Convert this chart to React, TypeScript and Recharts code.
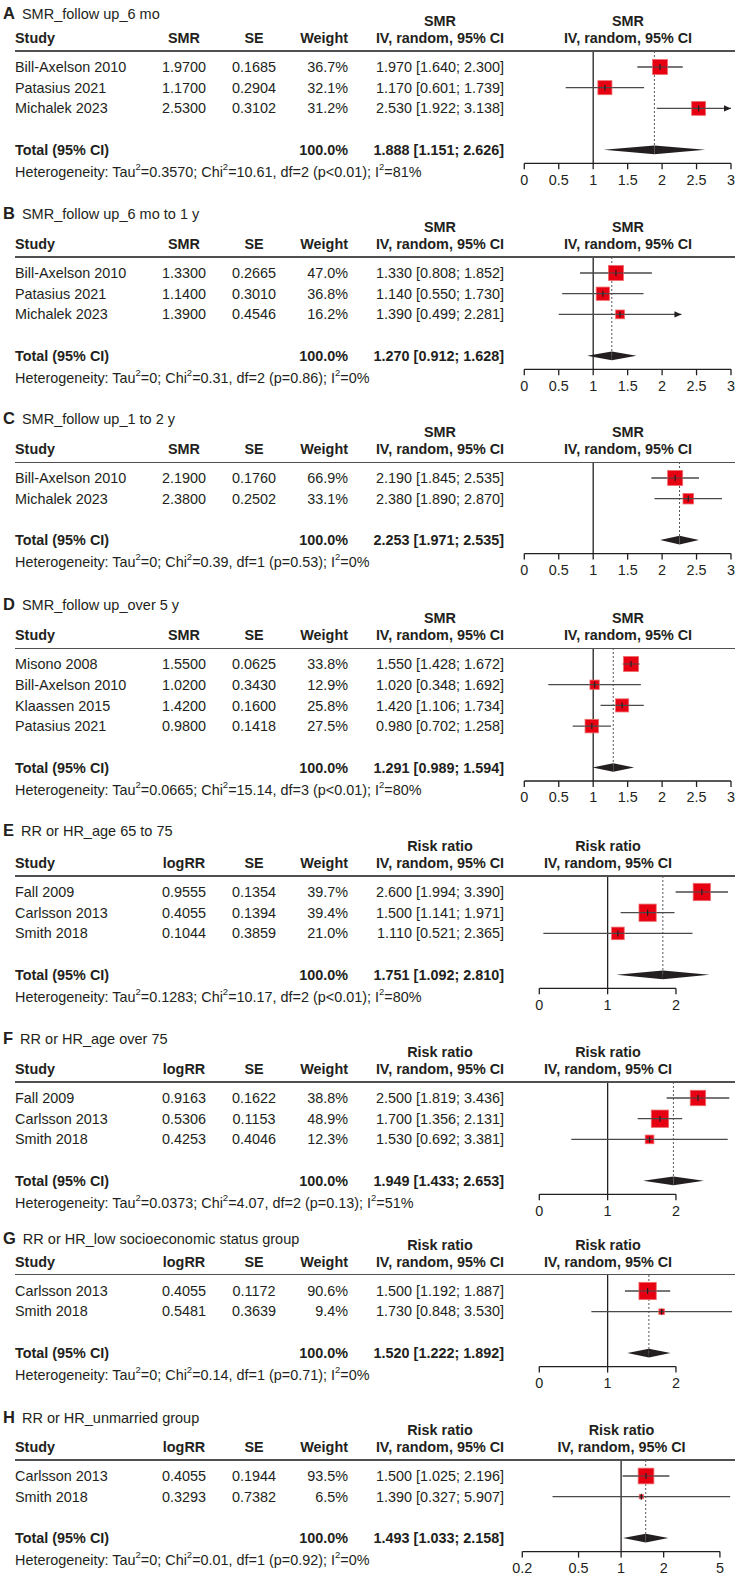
import React from 'react'
import { ComposedChart, XAxis, YAxis, Scatter, ReferenceLine, ReferenceArea, ReferenceDot } from 'recharts'

if (typeof document !== 'undefined') document.body.style.margin = '0'

const FONT = '"Liberation Sans", Arial, Helvetica, sans-serif'
const INK = '#231f20'
const RED = '#e60012'
const CI = '#4a4a4a'

// A: SMR, follow up 6 mo
const A_STUDIES = ['Bill-Axelson 2010', 'Patasius 2021', 'Michalek 2023']
const A_SMR = [1.97, 1.17, 2.53]
const A_SE = [0.1685, 0.2904, 0.3102]
const A_WEIGHT = [36.7, 32.1, 31.2]
const A_LOWER = [1.64, 0.601, 1.922]
const A_UPPER = [2.3, 1.739, 3.138]
const A_TOTAL = [1.888, 1.151, 2.626]
const A_HET = ['0.3570', '10.61', '2', 'p<0.01', '81%']

// B: SMR, follow up 6 mo to 1 y
const B_STUDIES = ['Bill-Axelson 2010', 'Patasius 2021', 'Michalek 2023']
const B_SMR = [1.33, 1.14, 1.39]
const B_SE = [0.2665, 0.301, 0.4546]
const B_WEIGHT = [47.0, 36.8, 16.2]
const B_LOWER = [0.808, 0.55, 0.499]
const B_UPPER = [1.852, 1.73, 2.281]
const B_TOTAL = [1.27, 0.912, 1.628]
const B_HET = ['0', '0.31', '2', 'p=0.86', '0%']

// C: SMR, follow up 1 to 2 y
const C_STUDIES = ['Bill-Axelson 2010', 'Michalek 2023']
const C_SMR = [2.19, 2.38]
const C_SE = [0.176, 0.2502]
const C_WEIGHT = [66.9, 33.1]
const C_LOWER = [1.845, 1.89]
const C_UPPER = [2.535, 2.87]
const C_TOTAL = [2.253, 1.971, 2.535]
const C_HET = ['0', '0.39', '1', 'p=0.53', '0%']

// D: SMR, follow up over 5 y
const D_STUDIES = ['Misono 2008', 'Bill-Axelson 2010', 'Klaassen 2015', 'Patasius 2021']
const D_SMR = [1.55, 1.02, 1.42, 0.98]
const D_SE = [0.0625, 0.343, 0.16, 0.1418]
const D_WEIGHT = [33.8, 12.9, 25.8, 27.5]
const D_LOWER = [1.428, 0.348, 1.106, 0.702]
const D_UPPER = [1.672, 1.692, 1.734, 1.258]
const D_TOTAL = [1.291, 0.989, 1.594]
const D_HET = ['0.0665', '15.14', '3', 'p<0.01', '80%']

// E: RR or HR, age 65 to 75
const E_STUDIES = ['Fall 2009', 'Carlsson 2013', 'Smith 2018']
const E_LOGRR = [0.9555, 0.4055, 0.1044]
const E_SE = [0.1354, 0.1394, 0.3859]
const E_WEIGHT = [39.7, 39.4, 21.0]
const E_RR = [2.6, 1.5, 1.11]
const E_LOWER = [1.994, 1.141, 0.521]
const E_UPPER = [3.39, 1.971, 2.365]
const E_TOTAL = [1.751, 1.092, 2.81]
const E_HET = ['0.1283', '10.17', '2', 'p<0.01', '80%']

// F: RR or HR, age over 75
const F_STUDIES = ['Fall 2009', 'Carlsson 2013', 'Smith 2018']
const F_LOGRR = [0.9163, 0.5306, 0.4253]
const F_SE = [0.1622, 0.1153, 0.4046]
const F_WEIGHT = [38.8, 48.9, 12.3]
const F_RR = [2.5, 1.7, 1.53]
const F_LOWER = [1.819, 1.356, 0.692]
const F_UPPER = [3.436, 2.131, 3.381]
const F_TOTAL = [1.949, 1.433, 2.653]
const F_HET = ['0.0373', '4.07', '2', 'p=0.13', '51%']

// G: RR or HR, low socioeconomic status group
const G_STUDIES = ['Carlsson 2013', 'Smith 2018']
const G_LOGRR = [0.4055, 0.5481]
const G_SE = [0.1172, 0.3639]
const G_WEIGHT = [90.6, 9.4]
const G_RR = [1.5, 1.73]
const G_LOWER = [1.192, 0.848]
const G_UPPER = [1.887, 3.53]
const G_TOTAL = [1.52, 1.222, 1.892]
const G_HET = ['0', '0.14', '1', 'p=0.71', '0%']

// H: RR or HR, unmarried group
const H_STUDIES = ['Carlsson 2013', 'Smith 2018']
const H_LOGRR = [0.4055, 0.3293]
const H_SE = [0.1944, 0.7382]
const H_WEIGHT = [93.5, 6.5]
const H_RR = [1.5, 1.39]
const H_LOWER = [1.025, 0.327]
const H_UPPER = [2.196, 5.907]
const H_TOTAL = [1.493, 1.033, 2.158]
const H_HET = ['0', '0.01', '1', 'p=0.92', '0%']

// axis ticks
const SMR_TICKS = [0, 0.5, 1, 1.5, 2, 2.5, 3]
const SMR_LABELS = ['0', '0.5', '1', '1.5', '2', '2.5', '3']
const RR_TICKS = [0.5, 1, 2]
const RR_LABELS = ['0', '1', '2']
const H_TICKS = [0.2, 0.5, 1, 2, 5]
const H_LABELS = ['0.2', '0.5', '1', '2', '5']

type Axis = { scale: 'linear' | 'log'; domain: number[]; left: number; right: number; head: number; ticks: number[]; labels: string[] }

const SMR_AXIS: Axis = { scale: 'linear', domain: [0, 3], left: 524.3, right: 731, head: 628, ticks: SMR_TICKS, labels: SMR_LABELS }
const RR_AXIS: Axis = { scale: 'log', domain: [0.5, 3.64], left: 539.3, right: 735, head: 608, ticks: RR_TICKS, labels: RR_LABELS }
const H_AXIS: Axis = { scale: 'log', domain: [0.2, 6.39], left: 522.3, right: 735, head: 621.5, ticks: H_TICKS, labels: H_LABELS }

type PanelDef = {
  tag: string
  title: string
  top: number
  titleY: number
  col: string
  measure: string
  studies: string[]
  value: number[]
  se: number[]
  weight: number[]
  est: number[]
  lower: number[]
  upper: number[]
  total: number[]
  het: string[]
  axis: Axis
  box: number
  arrows: number[]
}

const PANELS: PanelDef[] = [
  { tag: 'A', title: 'SMR_follow up_6 mo', top: 0, titleY: 12.7, col: 'SMR', measure: 'SMR', studies: A_STUDIES, value: A_SMR, se: A_SE, weight: A_WEIGHT, est: A_SMR, lower: A_LOWER, upper: A_UPPER, total: A_TOTAL, het: A_HET, axis: SMR_AXIS, box: 15, arrows: [2] },
  { tag: 'B', title: 'SMR_follow up_6 mo to 1 y', top: 206, titleY: 7, col: 'SMR', measure: 'SMR', studies: B_STUDIES, value: B_SMR, se: B_SE, weight: B_WEIGHT, est: B_SMR, lower: B_LOWER, upper: B_UPPER, total: B_TOTAL, het: B_HET, axis: SMR_AXIS, box: 15, arrows: [2] },
  { tag: 'C', title: 'SMR_follow up_1 to 2 y', top: 411.3, titleY: 7, col: 'SMR', measure: 'SMR', studies: C_STUDIES, value: C_SMR, se: C_SE, weight: C_WEIGHT, est: C_SMR, lower: C_LOWER, upper: C_UPPER, total: C_TOTAL, het: C_HET, axis: SMR_AXIS, box: 15, arrows: [] },
  { tag: 'D', title: 'SMR_follow up_over 5 y', top: 597.3, titleY: 7, col: 'SMR', measure: 'SMR', studies: D_STUDIES, value: D_SMR, se: D_SE, weight: D_WEIGHT, est: D_SMR, lower: D_LOWER, upper: D_UPPER, total: D_TOTAL, het: D_HET, axis: SMR_AXIS, box: 15, arrows: [] },
  { tag: 'E', title: 'RR or HR_age 65 to 75', top: 825, titleY: 5, col: 'logRR', measure: 'Risk ratio', studies: E_STUDIES, value: E_LOGRR, se: E_SE, weight: E_WEIGHT, est: E_RR, lower: E_LOWER, upper: E_UPPER, total: E_TOTAL, het: E_HET, axis: RR_AXIS, box: 17.3, arrows: [] },
  { tag: 'F', title: 'RR or HR_age over 75', top: 1031, titleY: 7, col: 'logRR', measure: 'Risk ratio', studies: F_STUDIES, value: F_LOGRR, se: F_SE, weight: F_WEIGHT, est: F_RR, lower: F_LOWER, upper: F_UPPER, total: F_TOTAL, het: F_HET, axis: RR_AXIS, box: 17.3, arrows: [] },
  { tag: 'G', title: 'RR or HR_low socioeconomic status group', top: 1223.5, titleY: 14, col: 'logRR', measure: 'Risk ratio', studies: G_STUDIES, value: G_LOGRR, se: G_SE, weight: G_WEIGHT, est: G_RR, lower: G_LOWER, upper: G_UPPER, total: G_TOTAL, het: G_HET, axis: RR_AXIS, box: 17.3, arrows: [] },
  { tag: 'H', title: 'RR or HR_unmarried group', top: 1409, titleY: 8, col: 'logRR', measure: 'Risk ratio', studies: H_STUDIES, value: H_LOGRR, se: H_SE, weight: H_WEIGHT, est: H_RR, lower: H_LOWER, upper: H_UPPER, total: H_TOTAL, het: H_HET, axis: H_AXIS, box: 15.7, arrows: [] },
]

const ROW = 20.7

function Txt({ x, y, align = 'left', bold = false, size = 14.4, children }: any) {
  const w = 420
  const left = align === 'left' ? x : align === 'right' ? x - w : x - w / 2
  return (
    <div
      style={{
        position: 'absolute', left, top: y - 10, width: w, height: 20, lineHeight: '20px',
        fontSize: size, fontWeight: bold ? 700 : 400, textAlign: align, whiteSpace: 'nowrap', color: INK,
      }}
    >
      {children}
    </div>
  )
}

const Sup = () => <span style={{ fontSize: 9.5, verticalAlign: '7px', lineHeight: 0 }}>2</span>

const ci = (e: number, l: number, u: number) => `${e.toFixed(3)} [${l.toFixed(3)}; ${u.toFixed(3)}]`

const square = (props: any) => {
  const { cx, cy, payload } = props
  const s = payload.size
  return <rect x={cx - s / 2} y={cy - s / 2} width={s} height={s} fill={RED} stroke="#ef6a6a" strokeWidth={0.8} />
}

// dark CI stroke across the box plus the small tick at the estimate
const cross = (props: any) => {
  const { cx, cy, payload } = props
  const s = payload.size
  return (
    <g>
      <line x1={cx - s / 2} x2={cx + s / 2} y1={cy} y2={cy} stroke={CI} strokeWidth={1.2} />
      <line x1={cx} x2={cx} y1={cy - 3} y2={cy + 3} stroke={INK} strokeWidth={1.2} />
    </g>
  )
}

const arrowHead = (props: any) => {
  const { cx, cy } = props
  return <path d={`M${cx},${cy} L${cx - 7},${cy - 3.2} L${cx - 7},${cy + 3.2} Z`} fill={INK} />
}

const leftHalf = (props: any) => {
  const { x, y, width, height } = props
  return <path d={`M${x},${y + height / 2} L${x + width},${y} L${x + width},${y + height} Z`} fill={INK} />
}

const rightHalf = (props: any) => {
  const { x, y, width, height } = props
  return <path d={`M${x},${y} L${x + width},${y + height / 2} L${x},${y + height} Z`} fill={INK} />
}

function Panel({ p }: { p: PanelDef }) {
  const n = p.studies.length
  const ax = p.axis
  const rowY = (i: number) => 67 + i * ROW
  const totalY = rowY(n + 1)
  const hetY = totalY + 22
  const axisY = totalY + 13.5
  const yTop = -16 / ROW
  const yBottom = n + 1 + 13.5 / ROW
  const chartH = axisY + 30
  const maxW = Math.max(...p.weight)
  const pts = p.studies.map((_, i) => ({ x: p.est[i], y: i, size: p.box * Math.sqrt(p.weight[i] / maxW) }))
  const xMax = ax.domain[1]
  const tickL = ax.ticks[0]
  const tickR = ax.ticks[ax.ticks.length - 1]
  const [tEst, tLo, tHi] = p.total
  const dh = 0.21

  return (
    <div style={{ position: 'absolute', left: 0, top: p.top, width: 738, height: chartH }}>
      <div style={{ position: 'absolute', left: 0, top: 0 }}>
        <ComposedChart width={738} height={chartH} margin={{ top: 51, right: 738 - ax.right, bottom: 0, left: ax.left }}>
          <XAxis
            type="number"
            dataKey="x"
            scale={ax.scale}
            domain={ax.domain}
            allowDataOverflow
            ticks={ax.ticks}
            interval={0}
            tickFormatter={(v: number) => ax.labels[ax.ticks.indexOf(v)] ?? String(v)}
            axisLine={false}
            tickLine={{ stroke: INK, strokeWidth: 1.3 }}
            tickSize={6}
            tickMargin={5}
            tick={{ fontSize: 14.4, fill: INK, fontFamily: FONT }}
            height={30}
          />
          <YAxis type="number" dataKey="y" domain={[yTop, yBottom]} reversed hide allowDataOverflow />
          <ReferenceLine ifOverflow="visible" segment={[{ x: tickL, y: yBottom }, { x: tickR, y: yBottom }]} stroke={INK} strokeWidth={1.3} />
          <ReferenceLine ifOverflow="visible" x={1} stroke={INK} strokeWidth={1.3} />
          <ReferenceLine ifOverflow="visible" segment={[{ x: tEst, y: yTop }, { x: tEst, y: n + 1 }]} stroke="#555" strokeWidth={1} strokeDasharray="2 2" />
          {p.studies.map((_, i) => (
            <ReferenceLine
              key={`ci${i}`}
              ifOverflow="visible"
              segment={[{ x: p.lower[i], y: i }, { x: Math.min(p.upper[i], xMax), y: i }]}
              stroke={CI}
              strokeWidth={1.3}
            />
          ))}
          <ReferenceArea ifOverflow="visible" x1={tLo} x2={tEst} y1={n + 1 - dh} y2={n + 1 + dh} shape={leftHalf} />
          <ReferenceArea ifOverflow="visible" x1={tEst} x2={tHi} y1={n + 1 - dh} y2={n + 1 + dh} shape={rightHalf} />
          <Scatter data={pts} shape={square} isAnimationActive={false} />
          <Scatter data={pts} shape={cross} isAnimationActive={false} />
          {p.arrows.map((i) => (
            <ReferenceDot key={`ar${i}`} ifOverflow="visible" x={Math.min(p.upper[i], xMax)} y={i} shape={arrowHead} />
          ))}
        </ComposedChart>
      </div>

      <div style={{ position: 'absolute', left: 3, top: p.titleY - 11, lineHeight: '22px', whiteSpace: 'nowrap', color: INK }}>
        <span style={{ fontSize: 16.5, fontWeight: 700 }}>{p.tag}</span>
        <span style={{ fontSize: 14.5, marginLeft: 7 }}>{p.title}</span>
      </div>

      <Txt x={440} y={21} align="center" bold>{p.measure}</Txt>
      <Txt x={ax.head} y={21} align="center" bold>{p.measure}</Txt>
      <Txt x={15} y={38} bold>Study</Txt>
      <Txt x={184} y={38} align="center" bold>{p.col}</Txt>
      <Txt x={254} y={38} align="center" bold>SE</Txt>
      <Txt x={348} y={38} align="right" bold>Weight</Txt>
      <Txt x={440} y={38} align="center" bold>IV, random, 95% CI</Txt>
      <Txt x={ax.head} y={38} align="center" bold>IV, random, 95% CI</Txt>
      <div style={{ position: 'absolute', left: 15, top: 50.3, width: 720, height: 1.4, background: '#505050' }} />

      {p.studies.map((s, i) => (
        <React.Fragment key={s + i}>
          <Txt x={15} y={rowY(i)}>{s}</Txt>
          <Txt x={184} y={rowY(i)} align="center">{p.value[i].toFixed(4)}</Txt>
          <Txt x={254} y={rowY(i)} align="center">{p.se[i].toFixed(4)}</Txt>
          <Txt x={348} y={rowY(i)} align="right">{p.weight[i].toFixed(1)}%</Txt>
          <Txt x={504} y={rowY(i)} align="right">{ci(p.est[i], p.lower[i], p.upper[i])}</Txt>
        </React.Fragment>
      ))}

      <Txt x={15} y={totalY} bold>Total (95% CI)</Txt>
      <Txt x={348} y={totalY} align="right" bold>100.0%</Txt>
      <Txt x={504} y={totalY} align="right" bold>{ci(tEst, tLo, tHi)}</Txt>
      <Txt x={15} y={hetY}>
        Heterogeneity: Tau<Sup />={p.het[0]}; Chi<Sup />={p.het[1]}, df={p.het[2]} ({p.het[3]}); I<Sup />={p.het[4]}
      </Txt>
    </div>
  )
}

export default function App() {
  return (
    <div style={{ position: 'relative', width: 738, height: 1578, fontFamily: FONT, background: '#fff', overflow: 'hidden' }}>
      {PANELS.map((p) => (
        <Panel key={p.tag} p={p} />
      ))}
    </div>
  )
}
